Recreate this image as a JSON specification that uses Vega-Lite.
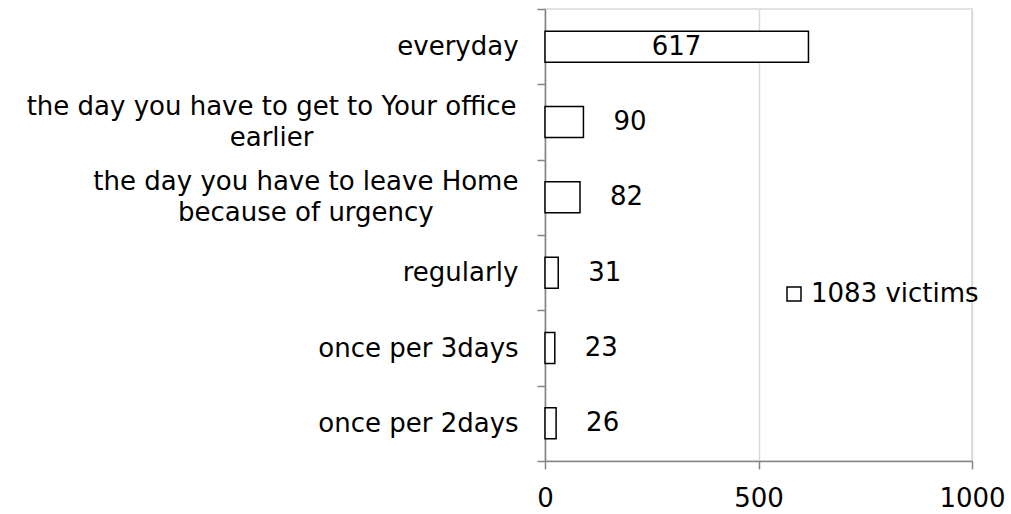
{
  "$schema": "https://vega.github.io/schema/vega-lite/v6.json",
  "width": 427,
  "height": 452,
  "autosize": {"type": "none"},
  "padding": {"left": 545, "top": 9, "right": 39, "bottom": 53},
  "background": "white",
  "config": {
    "font": "DejaVu Sans",
    "view": {"stroke": "#d9d9d9", "strokeWidth": 1.5},
    "axis": {"labelFont": "DejaVu Sans", "labelFontSize": 26, "labelColor": "#000000", "domainColor": "#868686", "domainWidth": 1.5, "tickColor": "#868686", "tickWidth": 1.5, "tickSize": 8, "title": null}
  },
  "data": {
    "values": [
      {"freq": "everyday", "count": 617},
      {"freq": "the day you have to get to Your office earlier", "count": 90},
      {"freq": "the day you have to leave Home because of urgency", "count": 82},
      {"freq": "regularly", "count": 31},
      {"freq": "once per 3days", "count": 23},
      {"freq": "once per 2days", "count": 26}
    ]
  },
  "encoding": {
    "y": {
      "field": "freq",
      "type": "nominal",
      "sort": null,
      "scale": {"paddingInner": 0, "paddingOuter": 0},
      "axis": {
        "tickBand": "extent",
        "grid": false,
        "labelAlign": "center",
        "labelBaseline": "middle",
        "labelOffset": {"condition": {"test": "datum.value == 'the day you have to get to Your office earlier' || datum.value == 'the day you have to leave Home because of urgency'", "value": -15.5}, "value": 0},
        "labelLimit": 600,
        "labelLineHeight": 31,
        "labelPadding": {"expr": "datum.value == 'everyday' ? 79.6 : datum.value == 'regularly' ? 77 : datum.value == 'the day you have to get to Your office earlier' ? 265.9 : datum.value == 'the day you have to leave Home because of urgency' ? 231.6 : 119"},
        "labelExpr": "datum.value == 'the day you have to get to Your office earlier' ? ['the day you have to get to Your office', 'earlier'] : datum.value == 'the day you have to leave Home because of urgency' ? ['the day you have to leave Home', 'because of urgency'] : datum.value"
      }
    },
    "x": {
      "field": "count",
      "type": "quantitative",
      "scale": {"domain": [0, 1000], "nice": false},
      "axis": {"values": [0, 500, 1000], "format": "d", "grid": true, "gridColor": "#d9d9d9", "gridWidth": 1.5, "labelPadding": 16, "labelFlush": false}
    }
  },
  "layer": [
    {
      "mark": {"type": "bar", "size": 31, "stroke": "#000000", "strokeWidth": 1.5},
      "encoding": {
        "fill": {
          "datum": "1083 victims",
          "scale": {"range": ["#ffffff"]},
          "legend": {
            "title": null,
            "orient": "none",
            "legendX": 236,
            "legendY": 272,
            "padding": 0,
            "symbolType": "square",
            "symbolSize": 196,
            "symbolStrokeColor": "#000000",
            "symbolStrokeWidth": 1.5,
            "symbolFillColor": "#ffffff",
            "labelFontSize": 26,
            "labelFont": "DejaVu Sans",
            "labelColor": "#000000",
            "labelLimit": 300,
            "labelOffset": 4
          }
        }
      }
    },
    {
      "transform": [{"filter": "datum.freq == 'everyday'"}],
      "mark": {"type": "text", "fontSize": 26, "color": "#000000", "align": "center", "baseline": "middle", "dx": -132},
      "encoding": {"text": {"field": "count", "type": "quantitative"}}
    },
    {
      "transform": [{"filter": "datum.freq != 'everyday'"}],
      "mark": {"type": "text", "fontSize": 26, "color": "#000000", "align": "left", "baseline": "middle", "dx": 30},
      "encoding": {"text": {"field": "count", "type": "quantitative"}}
    }
  ]
}
